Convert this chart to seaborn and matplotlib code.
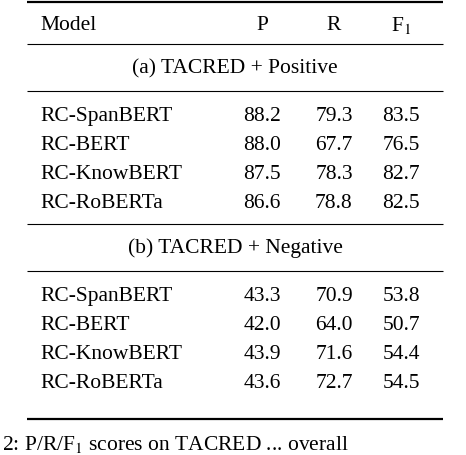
import matplotlib.pyplot as plt
import seaborn as sns

models = ['RC-SpanBERT', 'RC-BERT', 'RC-KnowBERT', 'RC-RoBERTa']
pos_p = [88.2, 88.0, 87.5, 86.6]
pos_r = [79.3, 67.7, 78.3, 78.8]
pos_f = [83.5, 76.5, 82.7, 82.5]
neg_p = [43.3, 42.0, 43.9, 43.6]
neg_r = [70.9, 64.0, 71.6, 72.7]
neg_f = [53.8, 50.7, 54.4, 54.5]
headers = ['Model', 'P', 'R', 'F$_1$']
sections = ['(a) TACRED + Positive', '(b) TACRED + Negative']

sns.set_theme(style='white')
plt.rcParams['font.family'] = ['Liberation Serif', 'DejaVu Serif']
plt.rcParams['mathtext.fontset'] = 'stix'
plt.rcParams['text.color'] = 'black'

fig = plt.figure(figsize=(4.66, 4.56), dpi=100)
ax = fig.add_axes([0, 0, 1, 1])
ax.set_xlim(0, 466)
ax.set_ylim(456, 0)
ax.axis('off')

fs = 15.5
col_x = [40, 262, 334, 401]
x0, x1 = 27, 443


def rule(y, lw):
    ax.plot([x0, x1], [y, y], color='black', lw=lw, solid_capstyle='butt')


def row(y, cells):
    ax.text(col_x[0], y, cells[0], fontsize=fs, ha='left', va='center')
    for x, c in zip(col_x[1:], cells[1:]):
        ax.text(x, y, c, fontsize=fs, ha='center', va='center')


rule(3, 1.6)
row(25, headers)
rule(45, 0.8)
ax.text(235, 69, sections[0], fontsize=fs, ha='center', va='center')
rule(92, 0.8)
for i, m in enumerate(models):
    row(117 + i * 28.7, [m, f'{pos_p[i]:.1f}', f'{pos_r[i]:.1f}', f'{pos_f[i]:.1f}'])
rule(225, 0.8)
ax.text(235, 248, sections[1], fontsize=fs, ha='center', va='center')
rule(272, 0.8)
for i, m in enumerate(models):
    row(297 + i * 28.7, [m, f'{neg_p[i]:.1f}', f'{neg_r[i]:.1f}', f'{neg_f[i]:.1f}'])
rule(420, 1.6)

ax.text(2, 450, '2: P/R/F$_1$ scores on TACRED ... overall', fontsize=fs,
        ha='left', va='baseline')

fig.savefig('out.png', dpi=100)
